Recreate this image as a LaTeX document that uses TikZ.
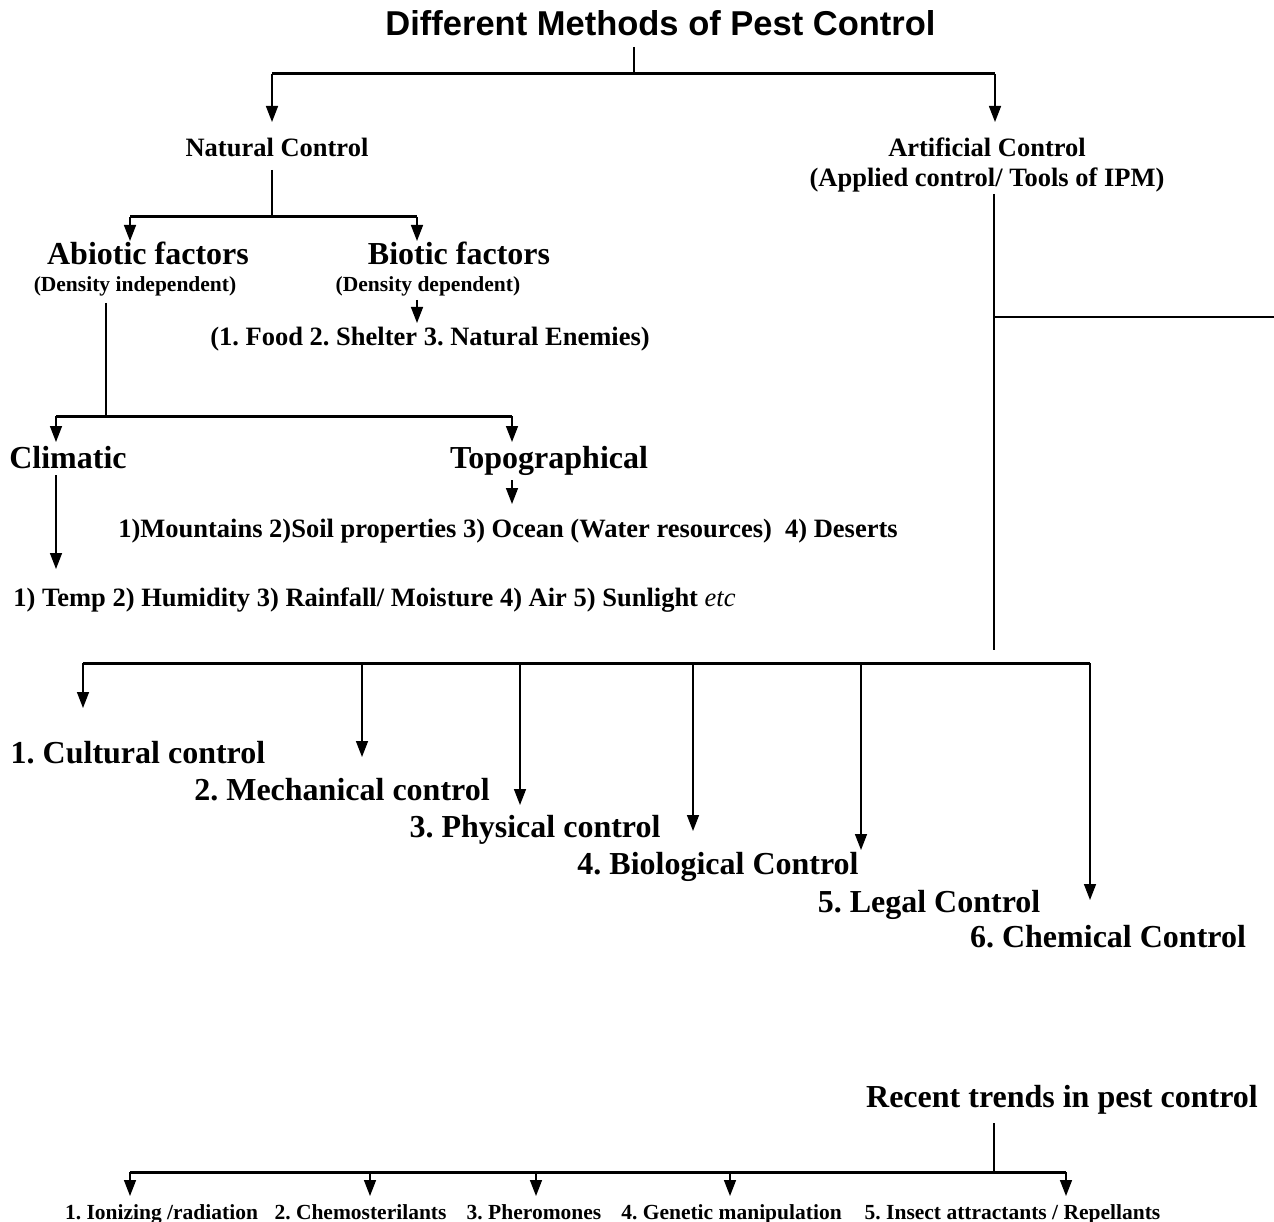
\documentclass[tikz,border=0pt]{standalone}
\usepackage{fontspec}
\setmainfont{Liberation Serif}
\newfontfamily\titlefont{Liberation Sans Bold}
\usetikzlibrary{arrows.meta}
\frenchspacing
\tikzset{
  ln/.style={line width=1.5pt},
  barln/.style={line width=3pt},
  arr/.style={line width=1.5pt,-{Triangle[length=16pt,width=12pt]}},
  ttl/.style={font=\titlefont\fontsize{34.5}{38}\selectfont,inner sep=0pt,anchor=base},
  tmid/.style={font=\fontsize{26.5}{30}\selectfont\bfseries,inner sep=0pt,anchor=base},
  tbig/.style={font=\fontsize{32}{36}\selectfont\bfseries,inner sep=0pt,anchor=base},
  tsmall/.style={font=\fontsize{21.5}{24}\selectfont\bfseries,inner sep=0pt,anchor=base},
}
\begin{document}
\frenchspacing
\begin{tikzpicture}[x=1pt,y=-1pt]
\fill[white] (0,0) rectangle (1274,1222);
\useasboundingbox (0,0) rectangle (1274,1222);

% ---------- texts ----------
\node[ttl] (title) at (660.5,36) {Different Methods of Pest Control};
\node[tmid] (natural) at (277,157) {Natural Control};
\node[tmid] (artificial) at (987,157) {Artificial Control};
\node[tmid] (applied) at (987,187) {(Applied control/ Tools of IPM)};
\node[tbig] (abiotic) at (148,265) {Abiotic factors};
\node[tsmall] (abdens) at (135,292) {(Density independent)};
\node[tbig] (biotic) at (459,265) {Biotic factors};
\node[tsmall] (bidens) at (428,292) {(Density dependent)};
\node[tmid] (food) at (430,346) {(1. Food 2. Shelter 3. Natural Enemies)};
\node[tbig] (climatic) at (68,468) {Climatic};
\node[tbig] (topo) at (549,468) {Topographical};
\node[tmid] (mount) at (508,537) {1)Mountains 2)Soil properties 3) Ocean (Water resources)\ \ 4) Deserts};
\node[tmid] (temp) at (374.5,606) {1) Temp 2) Humidity 3) Rainfall/ Moisture 4) Air 5) Sunlight {\mdseries\itshape etc}};
\node[tbig] (c1) at (138,763) {1. Cultural control};
\node[tbig] (c2) at (342,800) {2. Mechanical control};
\node[tbig] (c3) at (535,837) {3. Physical control};
\node[tbig] (c4) at (718,874) {4. Biological Control};
\node[tbig] (c5) at (929,912) {5. Legal Control};
\node[tbig] (c6) at (1108,947) {6. Chemical Control};
\node[tbig] (recent) at (1062,1107) {Recent trends in pest control};
\node[tsmall] (r1) at (161.5,1219) {1. Ionizing /radiation};
\node[tsmall] (r2) at (360.5,1219) {2. Chemosterilants};
\node[tsmall] (r3) at (534,1219) {3. Pheromones};
\node[tsmall] (r4) at (731.5,1219) {4. Genetic manipulation};
\node[tsmall] (r5) at (1012.5,1219) {5. Insect attractants / Repellants};

% ---------- coordinates ----------
\coordinate (t0) at (634,47);
\coordinate (t1) at (634,74);
\coordinate (b1L) at (272,74);
\coordinate (b1R) at (995,74);
\coordinate (natTip) at (272,122);
\coordinate (artTip) at (995,122);

\coordinate (n0) at (272,170);
\coordinate (n1) at (272,217);
\coordinate (b2L) at (130,217);
\coordinate (b2R) at (417,217);
\coordinate (abTip) at (130,241);
\coordinate (biTip) at (417,241);
\coordinate (fd0) at (417,300);
\coordinate (fdTip) at (417,323);

\coordinate (ab0) at (106,303);
\coordinate (ab1) at (106,416);
\coordinate (b3L) at (56,416);
\coordinate (b3R) at (512,416);
\coordinate (clTip) at (56,442);
\coordinate (toTip) at (512,442);
\coordinate (cl0) at (56,475);
\coordinate (clEnd) at (56,569);
\coordinate (to0) at (512,480);
\coordinate (toEnd) at (512,504);

\coordinate (a0) at (994,194);
\coordinate (a1) at (994,317);
\coordinate (a2) at (994,650);
\coordinate (aR) at (1274,317);

\coordinate (b4L) at (83,663);
\coordinate (b4R) at (1090,663);
\coordinate (k2) at (362,663);
\coordinate (k3) at (520,663);
\coordinate (k4) at (693,663);
\coordinate (k5) at (861,663);
\coordinate (e1) at (83,708);
\coordinate (e2) at (362,757);
\coordinate (e3) at (520,805);
\coordinate (e4) at (693,831);
\coordinate (e5) at (861,850);
\coordinate (e6) at (1090,900);

\coordinate (rv0) at (994,1123);
\coordinate (rv1) at (994,1172);
\coordinate (b5L) at (130,1172);
\coordinate (b5R) at (1066,1172);
\coordinate (q2) at (370,1172);
\coordinate (q3) at (536,1172);
\coordinate (q4) at (730,1172);
\coordinate (f1) at (130,1196);
\coordinate (f2) at (370,1196);
\coordinate (f3) at (536,1196);
\coordinate (f4) at (730,1196);
\coordinate (f5) at (1066,1196);

% ---------- connectors ----------
\draw[ln] (t0) -- (t1);
\draw[barln] (b1L) -- (b1R);
\draw[arr] (b1L) -- (natTip);
\draw[arr] (b1R) -- (artTip);

\draw[ln] (n0) -- (n1);
\draw[barln] (b2L) -- (b2R);
\draw[arr] (b2L) -- (abTip);
\draw[arr] (b2R) -- (biTip);
\draw[arr] (fd0) -- (fdTip);

\draw[ln] (ab0) -- (ab1);
\draw[barln] (b3L) -- (b3R);
\draw[arr] (b3L) -- (clTip);
\draw[arr] (b3R) -- (toTip);
\draw[arr] (cl0) -- (clEnd);
\draw[arr] (to0) -- (toEnd);

\draw[ln] (a0) -- (a2);
\draw[ln] (a1) -- (aR);

\draw[barln] (b4L) -- (b4R);
\draw[arr] (b4L) -- (e1);
\draw[arr] (k2) -- (e2);
\draw[arr] (k3) -- (e3);
\draw[arr] (k4) -- (e4);
\draw[arr] (k5) -- (e5);
\draw[arr] (b4R) -- (e6);

\draw[ln] (rv0) -- (rv1);
\draw[barln] (b5L) -- (b5R);
\draw[arr] (b5L) -- (f1);
\draw[arr] (q2) -- (f2);
\draw[arr] (q3) -- (f3);
\draw[arr] (q4) -- (f4);
\draw[arr] (b5R) -- (f5);
\end{tikzpicture}
\end{document}
